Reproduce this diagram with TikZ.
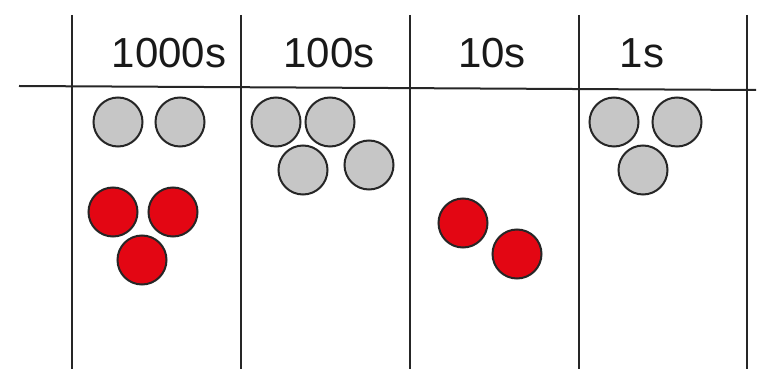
\documentclass[tikz,border=0pt]{standalone}
\usepackage{fontspec}
\setmainfont{Liberation Sans}
\definecolor{counter grey}{HTML}{C6C6C6}
\definecolor{counter red}{HTML}{E30613}

\begin{document}
\begin{tikzpicture}[x=1pt, y=-1pt,
  grey counter/.style={circle,draw=black!85,line width=2pt,fill=counter grey,minimum size=49pt,inner sep=0pt},
  red counter/.style={circle,draw=black!85,line width=2pt,fill=counter red,minimum size=49pt,inner sep=0pt},
  heading/.style={inner sep=0pt,font=\fontsize{42}{42}\selectfont,text=black!90}]
  \useasboundingbox (0,0) rectangle (764,371);

  % table lines
  \draw[line width=2pt,black!85] (19,86) -- (756,90);
  \foreach \x in {72,241,410,579,747}
    \draw[line width=2pt,black!85] (\x,15) -- (\x,369);

  % headings
  \node[heading] (h0) at (169,53) {1000s};
  \node[heading] (h1) at (329,53) {100s};
  \node[heading] (h2) at (492,53) {10s};
  \node[heading] (h3) at (642,53) {1s};

  % thousands
  \node[grey counter] (t0) at (118,122) {};
  \node[grey counter] (t1) at (180,122) {};
  \node[red counter] (t2) at (113,212) {};
  \node[red counter] (t3) at (173,212) {};
  \node[red counter] (t4) at (142,260) {};

  % hundreds
  \node[grey counter] (h0a) at (276,122) {};
  \node[grey counter] (h1a) at (330,122) {};
  \node[grey counter] (h2a) at (303,170) {};
  \node[grey counter] (h3a) at (369,165) {};

  % tens
  \node[red counter] (e0) at (463,223) {};
  \node[red counter] (e1) at (517,254) {};

  % ones
  \node[grey counter] (o0) at (614,122) {};
  \node[grey counter] (o1) at (677,122) {};
  \node[grey counter] (o2) at (643,170) {};
\end{tikzpicture}
\end{document}
